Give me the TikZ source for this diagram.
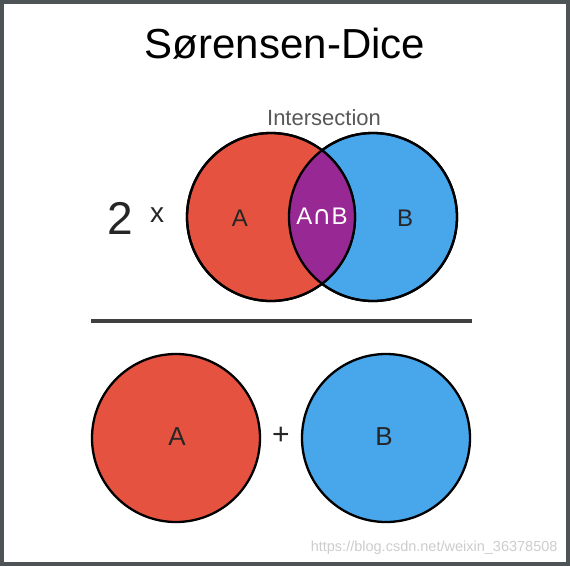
\documentclass[tikz,border=0pt]{standalone}
\usepackage{fontspec}
\setmainfont{Liberation Sans}
\newfontfamily\symfont{DejaVu Sans}
\usepackage{tikz}
\usetikzlibrary{positioning}
\definecolor{setred}{RGB}{229,83,64}
\definecolor{setblue}{RGB}{72,166,234}
\definecolor{lens}{RGB}{152,40,148}
\definecolor{frame}{RGB}{78,84,86}
\definecolor{rule}{RGB}{64,64,64}
\definecolor{softgray}{RGB}{88,88,88}
\definecolor{mark}{RGB}{205,205,205}
\tikzset{
  setcircle/.style={circle,draw=black,line width=2.3pt,minimum size=168pt,inner sep=0pt},
  outline/.style={draw=black,line width=2.3pt},
  setlabel/.style={font=\fontsize{24}{24}\selectfont,text=black!85},
  title/.style={font=\fontsize{42}{42}\selectfont,text=black}
}

\begin{document}
\begin{tikzpicture}[x=1pt,y=-1pt]
  \useasboundingbox (0,0) rectangle (570,566);
  \fill[white] (0,0) rectangle (570,566);
  \draw[frame,line width=4pt] (2,2) rectangle (568,564);
  \node[title] (head) at (285,44) {Sørensen-Dice};
  % numerator: 2 x |A and B|
  \node[setcircle,fill=setblue] (topB) at (373,217) {};
  \node[setcircle,fill=setred] (topA) at (271,217) {};
  \begin{scope}
    \clip (topA.center) circle (84pt);
    \fill[lens] (topB.center) circle (84pt);
  \end{scope}
  \draw[outline] (topA.center) circle (84pt);
  \draw[outline] (topB.center) circle (84pt);
  \node[font=\fontsize{22}{22}\selectfont,text=softgray] (inter) at (324,118) {Intersection};
  \node[setlabel] (labA) at (240,218) {A};
  \node[setlabel] (labB) at (405,218) {B};
  \node[setlabel,text=white,inner sep=0pt] (labAB) at (322,216) {A{\symfont\fontsize{26}{26}\selectfont∩}B};
  \node[font=\fontsize{46}{46}\selectfont,text=black!85] (two) at (120,218) {2};
  \node[font=\fontsize{28}{28}\selectfont,text=black!85] (times) at (157,215) {x};
  % fraction bar
  \coordinate (barL) at (91,321);
  \coordinate (barR) at (472,321);
  \draw[rule,line width=3.5pt] (barL) -- (barR);
  % denominator: |A| + |B|
  \node[setcircle,fill=setred] (botA) at (176,438) {};
  \node[setcircle,fill=setblue] (botB) at (386,438) {};
  \node[setlabel,font=\fontsize{26}{26}\selectfont] (labA2) at (177,437) {A};
  \node[setlabel,font=\fontsize{26}{26}\selectfont] (labB2) at (384,437) {B};
  \node[font=\fontsize{30}{30}\selectfont,text=black!85] (plus) at (281,436) {+};
  \node[font=\fontsize{14.5}{14.5}\selectfont,text=mark,anchor=east] (url) at (561,548) {https://blog.csdn.net/weixin\_36378508};
\end{tikzpicture}
\end{document}
